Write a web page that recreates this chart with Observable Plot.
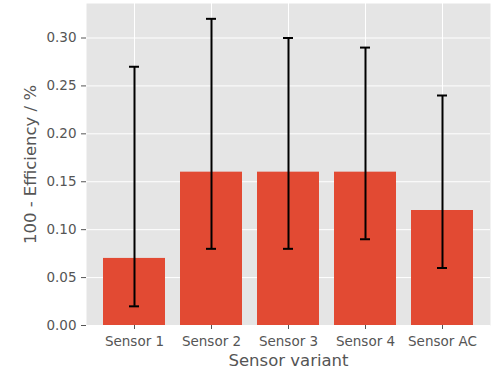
<!DOCTYPE html>
<html>
<head>
<meta charset="utf-8">
<script src="https://cdn.jsdelivr.net/npm/d3@7"></script>
<script src="https://cdn.jsdelivr.net/npm/@observablehq/plot@0.6"></script>
<style>
  html, body { margin: 0; padding: 0; background: #ffffff; }
  #chart svg { display: block; }
</style>
</head>
<body>
<div id="chart"></div>
<script>
const categories = ["Sensor 1", "Sensor 2", "Sensor 3", "Sensor 4", "Sensor AC"];
const values = [0.07, 0.16, 0.16, 0.16, 0.12];
const errLow = [0.02, 0.08, 0.08, 0.09, 0.06];
const errHigh = [0.27, 0.32, 0.30, 0.29, 0.24];
const yTicks = [0, 0.05, 0.10, 0.15, 0.20, 0.25, 0.30];
const xLabel = "Sensor variant";
const yLabel = "100 - Efficiency / %";

const data = categories.map((c, i) => ({cat: c, v: values[i], lo: errLow[i], hi: errHigh[i]}));

const font = "'DejaVu Sans', sans-serif";
const grey = "#555555";

const chart = Plot.plot({
  width: 494,
  height: 372,
  marginLeft: 86,
  marginRight: 4,
  marginTop: 3,
  marginBottom: 47,
  style: {fontFamily: font, fontSize: "13.5px", color: grey, background: "#ffffff"},
  x: {domain: categories, paddingInner: 0.2, paddingOuter: 0.22, label: null},
  y: {domain: [0, 0.336], label: null},
  marks: [
    Plot.frame({fill: "#E5E5E5", stroke: null}),
    Plot.gridX({stroke: "#ffffff", strokeOpacity: 1, strokeWidth: 1}),
    Plot.gridY(yTicks, {stroke: "#ffffff", strokeOpacity: 1, strokeWidth: 1}),
    Plot.barY(data, {x: "cat", y: "v", fill: "#E24A33"}),
    Plot.ruleX(data, {x: "cat", y1: "lo", y2: "hi", stroke: "#000000", strokeWidth: 2}),
    Plot.tickY(data, {x: "cat", y: "lo", stroke: "#000000", strokeWidth: 2, insetLeft: 26, insetRight: 26}),
    Plot.tickY(data, {x: "cat", y: "hi", stroke: "#000000", strokeWidth: 2, insetLeft: 26, insetRight: 26}),
    Plot.axisX({tickSize: 4, tickPadding: 7, stroke: grey, fill: grey, label: null, fontSize: 13.5}),
    Plot.axisY(yTicks, {tickSize: 5, tickPadding: 5, tickFormat: d3.format(".2f"), stroke: grey, fill: grey, label: null, fontSize: 13.5}),
    Plot.text([xLabel], {frameAnchor: "bottom", dy: 29, text: d => d, fill: grey, fontSize: 16.5, lineAnchor: "top", textAnchor: "middle"}),
    Plot.text([yLabel], {frameAnchor: "left", dx: -56, text: d => d, fill: grey, fontSize: 16.5, rotate: -90, textAnchor: "middle", lineAnchor: "middle"})
  ]
});
document.getElementById("chart").appendChild(chart);
</script>
</body>
</html>
